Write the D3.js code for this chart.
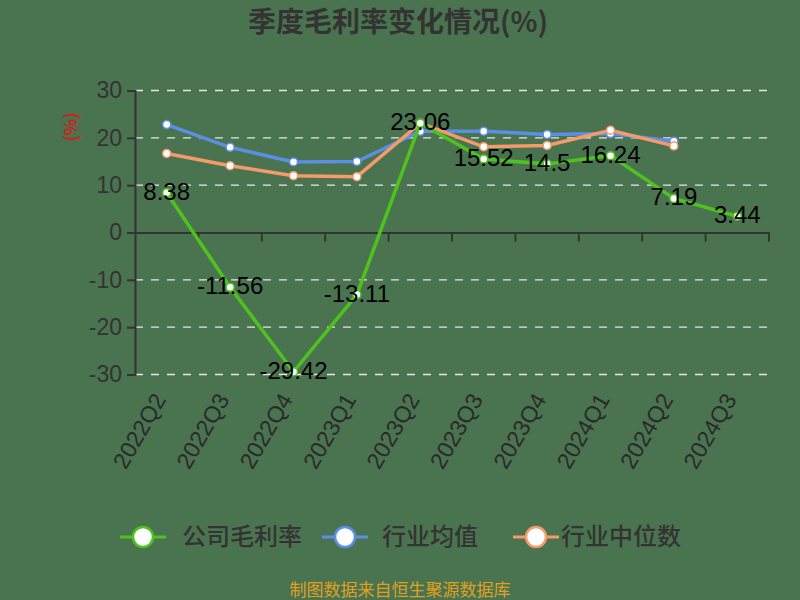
<!DOCTYPE html>
<html><head><meta charset="utf-8">
<script src="https://cdn.jsdelivr.net/npm/d3@7"></script>
<style>body{margin:0;background:#4a7350;} svg{display:block;}</style>
</head><body>
<svg id="c" width="800" height="600"></svg>
<script>
const categories = ["2022Q2","2022Q3","2022Q4","2023Q1","2023Q2","2023Q3","2023Q4","2024Q1","2024Q2","2024Q3"];
const companyMargin = [8.38, -11.56, -29.42, -13.11, 23.06, 15.52, 14.5, 16.24, 7.19, 3.44];
const industryMean = [22.8, 18.0, 14.9, 15.0, 21.4, 21.4, 20.7, 20.9, 19.3, null];
const industryMedian = [16.7, 14.1, 12.0, 11.8, 23.1, 18.1, 18.4, 21.6, 18.3, null];
const yTicks = [30, 20, 10, 0, -10, -20, -30];
const seriesNames = ["公司毛利率", "行业均值", "行业中位数"];
const colors = ["#4fc21f", "#5b8fe6", "#f59a6a"];

const svg = d3.select("#c");
const font = "'Noto Sans CJK SC', 'Noto Sans', sans-serif";
const numFont = "'Liberation Sans', Arial, sans-serif";
const pLeft = 135, pRight = 769, pTop = 90.5, pBottom = 374.5;
const x = d3.scaleBand().domain(categories).range([pLeft, pRight]);
const y = d3.scaleLinear().domain([-30, 30]).range([pBottom, pTop]);

svg.append("text").attr("x", 398).attr("y", 32).attr("text-anchor", "middle")
  .attr("font-family", font).attr("font-weight", "bold").attr("font-size", 28)
  .attr("fill", "#333").text("季度毛利率变化情况(%)");

// grid
svg.append("g").selectAll("line").data(yTicks.filter(d => d !== 0)).join("line")
  .attr("x1", pLeft).attr("x2", pRight).attr("y1", d => y(d)).attr("y2", d => y(d))
  .attr("stroke", "#e8e8e8").attr("stroke-width", 1.3).attr("stroke-dasharray", "8,8");

// y axis
const ya = svg.append("g").attr("transform", `translate(${pLeft},0)`)
  .call(d3.axisLeft(y).tickValues(yTicks).tickFormat(d => String(d)).tickSize(8).tickPadding(5));
ya.select(".domain").attr("stroke", "#333").attr("stroke-width", 2);
ya.selectAll(".tick line").attr("stroke", "#333").attr("stroke-width", 2);
ya.selectAll("text").attr("font-family", numFont).attr("font-size", 23).attr("fill", "#333");

svg.append("text").attr("transform", "translate(77,127) rotate(-90)")
  .attr("text-anchor", "middle").attr("font-family", font).attr("font-size", 17)
  .attr("font-weight", "bold").attr("fill", "#d02020").text("(%)");

// x axis at 0
const xa = svg.append("g").attr("transform", `translate(0,${y(0)})`)
  .call(d3.axisBottom(x).tickSize(0).tickFormat(""));
xa.select(".domain").attr("stroke", "#333").attr("stroke-width", 2);
svg.append("g").selectAll("line").data(categories).join("line")
  .attr("x1", d => x(d) + x.bandwidth()).attr("x2", d => x(d) + x.bandwidth())
  .attr("y1", y(0)).attr("y2", y(0) + 9).attr("stroke", "#333").attr("stroke-width", 2);

// x labels
svg.append("g").selectAll("text").data(categories).join("text")
  .attr("transform", d => `translate(${x(d) + x.bandwidth()/2 - 7},${pBottom + 21}) rotate(-60)`)
  .attr("text-anchor", "end").attr("dy", "0.35em")
  .attr("font-family", numFont).attr("font-size", 23).attr("fill", "#2a2a2a").text(d => d);

const allSeries = [companyMargin, industryMean, industryMedian];
const line = d3.line().defined(d => d != null)
  .x((d, i) => x(categories[i]) + x.bandwidth()/2).y(d => y(d));

[1, 2, 0].forEach(si => {
  const data = allSeries[si];
  svg.append("path").datum(data).attr("d", line).attr("fill", "none")
    .attr("stroke", colors[si]).attr("stroke-width", 3.5);
  svg.append("g").selectAll("circle").data(data.map((v, i) => ({v, i})).filter(d => d.v != null)).join("circle")
    .attr("cx", d => x(categories[d.i]) + x.bandwidth()/2).attr("cy", d => y(d.v))
    .attr("r", 4).attr("fill", "#fff").attr("stroke", colors[si]).attr("stroke-width", 1.5);
});

// labels for company
svg.append("g").selectAll("text").data(companyMargin).join("text")
  .attr("x", (d, i) => x(categories[i]) + x.bandwidth()/2)
  .attr("y", d => y(d) + 7)
  .attr("text-anchor", "middle").attr("font-family", numFont).attr("font-size", 24)
  .attr("fill", "#000").text(d => d);

// legend
const legendItems = [
  {x1: 120, tx: 182},
  {x1: 322, tx: 382},
  {x1: 513, tx: 561}
];
legendItems.forEach((it, i) => {
  const g = svg.append("g");
  g.append("line").attr("x1", it.x1).attr("x2", it.x1 + 46).attr("y1", 537).attr("y2", 537)
    .attr("stroke", colors[i]).attr("stroke-width", 3);
  g.append("circle").attr("cx", it.x1 + 23).attr("cy", 537).attr("r", 10)
    .attr("fill", "#fff").attr("stroke", colors[i]).attr("stroke-width", 2.5);
  g.append("text").attr("x", it.tx).attr("y", 545).attr("font-family", font)
    .attr("font-size", 24).attr("font-weight", 500).attr("fill", "#333").text(seriesNames[i]);
});

svg.append("text").attr("x", 400).attr("y", 596).attr("text-anchor", "middle")
  .attr("font-family", font).attr("font-size", 17).attr("fill", "#e0a020")
  .text("制图数据来自恒生聚源数据库");
</script>
</body></html>
